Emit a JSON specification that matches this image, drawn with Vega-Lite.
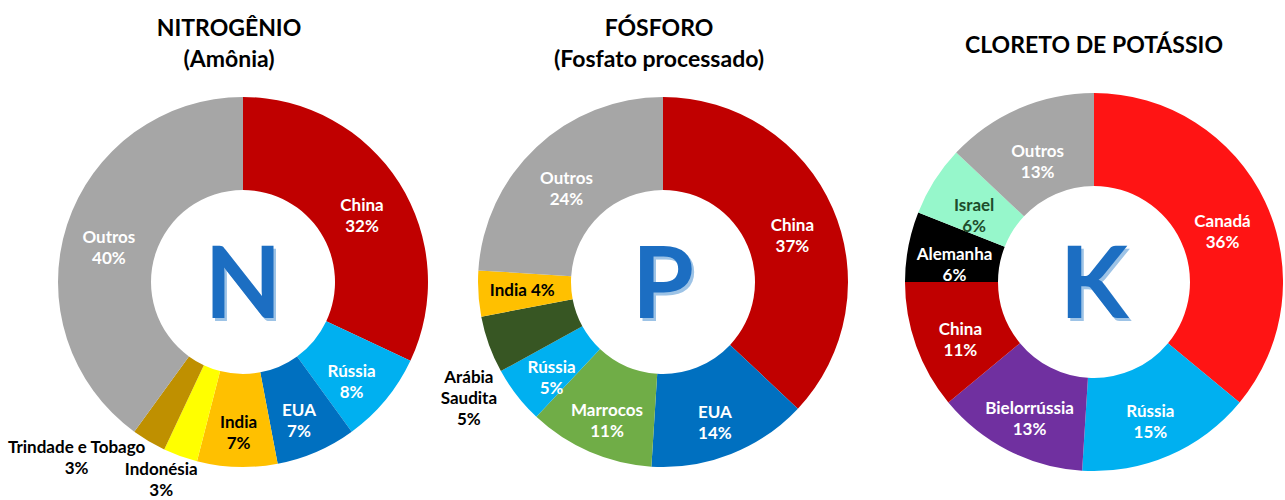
{
  "$schema": "https://vega.github.io/schema/vega-lite/v6.json",
  "background": "#ffffff",
  "padding": {"left": 7, "top": 18, "right": 0, "bottom": 5},
  "bounds": "flush",
  "spacing": 42,
  "resolve": {"scale": {"color": "independent", "theta": "independent"}},
  "config": {
    "view": {"stroke": null},
    "title": {"font": "Lato", "fontSize": 23, "fontWeight": "bold", "color": "#000000", "lineHeight": 31, "baseline": "bottom", "frame": "group", "anchor": "middle"},
    "text": {"font": "Lato", "fontSize": 17, "fontWeight": "bold", "lineHeight": 21, "lineBreak": "\n", "baseline": "middle", "align": "center"}
  },
  "hconcat": [
    {
      "width": 356,
      "height": 410,
      "title": {"text": ["NITROGÊNIO", "(Amônia)"], "dx": -14, "offset": 5},
      "data": {"values": [
        {"ord": 1, "name": "China", "value": 32, "label": "China\n32%"},
        {"ord": 2, "name": "Rússia", "value": 8, "label": "Rússia\n8%"},
        {"ord": 3, "name": "EUA", "value": 7, "label": "EUA\n7%"},
        {"ord": 4, "name": "India", "value": 7, "label": "India\n7%"},
        {"ord": 5, "name": "Indonésia", "value": 3, "label": "Indonésia\n3%"},
        {"ord": 6, "name": "Trindade e Tobago", "value": 3, "label": "Trindade e Tobago\n3%"},
        {"ord": 7, "name": "Outros", "value": 40, "label": "Outros\n40%"}
      ]},
      "layer": [
        {
          "mark": {"type": "arc", "innerRadius": 92, "outerRadius": 185},
          "encoding": {
            "theta": {"field": "value", "type": "quantitative", "stack": true},
            "order": {"field": "ord", "type": "quantitative"},
            "color": {"field": "name", "type": "nominal", "legend": null,
              "scale": {"domain": ["China", "Rússia", "EUA", "India", "Indonésia", "Trindade e Tobago", "Outros"],
                        "range": ["#C00000", "#00B0F0", "#0070C0", "#FFC000", "#FFFF00", "#BF9000", "#A6A6A6"]}}
          }
        },
        {
          "mark": {"type": "text", "radius": 141},
          "encoding": {
            "theta": {"field": "value", "type": "quantitative", "stack": true},
            "order": {"field": "ord", "type": "quantitative"},
            "detail": {"field": "name", "type": "nominal"},
            "text": {"condition": {"test": "datum.name === 'Indonésia' || datum.name === 'Trindade e Tobago'", "value": ""}, "field": "label", "type": "nominal"},
            "color": {"condition": {"test": "datum.name === 'India'", "value": "#000000"}, "value": "#ffffff"}
          }
        },
        {
          "mark": {"type": "text", "radius": 200, "dx": -14, "color": "#000000"},
          "encoding": {
            "theta": {"field": "value", "type": "quantitative", "stack": true},
            "order": {"field": "ord", "type": "quantitative"},
            "detail": {"field": "name", "type": "nominal"},
            "text": {"condition": {"test": "datum.name !== 'Indonésia'", "value": ""}, "field": "label", "type": "nominal"}
          }
        },
        {
          "mark": {"type": "text", "radius": 150, "dx": -90, "dy": 37, "color": "#000000"},
          "encoding": {
            "theta": {"field": "value", "type": "quantitative", "stack": true},
            "order": {"field": "ord", "type": "quantitative"},
            "detail": {"field": "name", "type": "nominal"},
            "text": {"condition": {"test": "datum.name !== 'Trindade e Tobago'", "value": ""}, "field": "label", "type": "nominal"}
          }
        },
        {
          "data": {"values": [{"letter": "N"}]},
          "mark": {"type": "text", "fontSize": 100, "dx": 2.5, "dy": 8.5, "color": "#9DC3E6"},
          "encoding": {"text": {"field": "letter", "type": "nominal"}}
        },
        {
          "data": {"values": [{"letter": "N"}]},
          "mark": {"type": "text", "fontSize": 100, "dy": 6, "color": "#1C6EC2"},
          "encoding": {"text": {"field": "letter", "type": "nominal"}}
        }
      ]
    },
    {
      "width": 400,
      "height": 410,
      "title": {"text": ["FÓSFORO", "(Fosfato processado)"], "dx": -4, "offset": 5},
      "data": {"values": [
        {"ord": 1, "name": "China", "value": 37, "label": "China\n37%"},
        {"ord": 2, "name": "EUA", "value": 14, "label": "EUA\n14%"},
        {"ord": 3, "name": "Marrocos", "value": 11, "label": "Marrocos\n11%"},
        {"ord": 4, "name": "Rússia", "value": 5, "label": "Rússia\n5%"},
        {"ord": 5, "name": "Arábia Saudita", "value": 5, "label": "Arábia\nSaudita\n5%"},
        {"ord": 6, "name": "India", "value": 4, "label": "India 4%"},
        {"ord": 7, "name": "Outros", "value": 24, "label": "Outros\n24%"}
      ]},
      "layer": [
        {
          "mark": {"type": "arc", "innerRadius": 92, "outerRadius": 185},
          "encoding": {
            "theta": {"field": "value", "type": "quantitative", "stack": true},
            "order": {"field": "ord", "type": "quantitative"},
            "color": {"field": "name", "type": "nominal", "legend": null,
              "scale": {"domain": ["China", "EUA", "Marrocos", "Rússia", "Arábia Saudita", "India", "Outros"],
                        "range": ["#C00000", "#0070C0", "#70AD47", "#00B0F0", "#375623", "#FFC000", "#A6A6A6"]}}
          }
        },
        {
          "mark": {"type": "text", "radius": 141},
          "encoding": {
            "theta": {"field": "value", "type": "quantitative", "stack": true},
            "order": {"field": "ord", "type": "quantitative"},
            "detail": {"field": "name", "type": "nominal"},
            "text": {"condition": {"test": "datum.name === 'Arábia Saudita'", "value": ""}, "field": "label", "type": "nominal"},
            "color": {"condition": {"test": "datum.name === 'India'", "value": "#000000"}, "value": "#ffffff"}
          }
        },
        {
          "mark": {"type": "text", "radius": 150, "dx": -53, "dy": 45, "color": "#000000"},
          "encoding": {
            "theta": {"field": "value", "type": "quantitative", "stack": true},
            "order": {"field": "ord", "type": "quantitative"},
            "detail": {"field": "name", "type": "nominal"},
            "text": {"condition": {"test": "datum.name !== 'Arábia Saudita'", "value": ""}, "field": "label", "type": "nominal"}
          }
        },
        {
          "data": {"values": [{"letter": "P"}]},
          "mark": {"type": "text", "fontSize": 100, "dx": 2.5, "dy": 8.5, "color": "#9DC3E6"},
          "encoding": {"text": {"field": "letter", "type": "nominal"}}
        },
        {
          "data": {"values": [{"letter": "P"}]},
          "mark": {"type": "text", "fontSize": 100, "dy": 6, "color": "#1C6EC2"},
          "encoding": {"text": {"field": "letter", "type": "nominal"}}
        }
      ]
    },
    {
      "width": 378,
      "height": 410,
      "title": {"text": "CLORETO DE POTÁSSIO", "offset": 19},
      "data": {"values": [
        {"ord": 1, "name": "Canadá", "value": 36, "label": "Canadá\n36%"},
        {"ord": 2, "name": "Rússia", "value": 15, "label": "Rússia\n15%"},
        {"ord": 3, "name": "Bielorrússia", "value": 13, "label": "Bielorrússia\n13%"},
        {"ord": 4, "name": "China", "value": 11, "label": "China\n11%"},
        {"ord": 5, "name": "Alemanha", "value": 6, "label": "Alemanha\n6%"},
        {"ord": 6, "name": "Israel", "value": 6, "label": "Israel\n6%"},
        {"ord": 7, "name": "Outros", "value": 13, "label": "Outros\n13%"}
      ]},
      "layer": [
        {
          "mark": {"type": "arc", "innerRadius": 96, "outerRadius": 189},
          "encoding": {
            "theta": {"field": "value", "type": "quantitative", "stack": true},
            "order": {"field": "ord", "type": "quantitative"},
            "color": {"field": "name", "type": "nominal", "legend": null,
              "scale": {"domain": ["Canadá", "Rússia", "Bielorrússia", "China", "Alemanha", "Israel", "Outros"],
                        "range": ["#FF1414", "#00B0F0", "#7030A0", "#C00000", "#000000", "#96F7CB", "#A6A6A6"]}}
          }
        },
        {
          "mark": {"type": "text", "radius": 142},
          "encoding": {
            "theta": {"field": "value", "type": "quantitative", "stack": true},
            "order": {"field": "ord", "type": "quantitative"},
            "detail": {"field": "name", "type": "nominal"},
            "text": {"field": "label", "type": "nominal"},
            "color": {"condition": {"test": "datum.name === 'Israel'", "value": "#1E4D2B"}, "value": "#ffffff"}
          }
        },
        {
          "data": {"values": [{"letter": "K"}]},
          "mark": {"type": "text", "fontSize": 100, "dx": 2.5, "dy": 8.5, "color": "#9DC3E6"},
          "encoding": {"text": {"field": "letter", "type": "nominal"}}
        },
        {
          "data": {"values": [{"letter": "K"}]},
          "mark": {"type": "text", "fontSize": 100, "dy": 6, "color": "#1C6EC2"},
          "encoding": {"text": {"field": "letter", "type": "nominal"}}
        }
      ]
    }
  ]
}
